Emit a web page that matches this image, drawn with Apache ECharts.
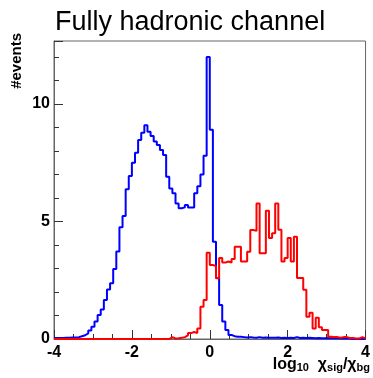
<!DOCTYPE html>
<html>
<head>
<meta charset="utf-8">
<script src="https://cdn.jsdelivr.net/npm/echarts@6/dist/echarts.min.js"></script>
<style>
  html, body { margin: 0; padding: 0; background: #fff; }
  #chart { width: 373px; height: 378px; }
</style>
</head>
<body>
<div id="chart"></div>
<script>
// binning of the histograms: 100 bins from -4 to 4
const xMin = -4;
const xMax = 4;
const binWidth = 0.08;
const xTicks = [-4, -2, 0, 2, 4];
const yTicks = [0, 5, 10];

// blue histogram (#events per bin)
const blueCounts = [
  0.04, 0.04, 0.04, 0.05, 0.05, 0.06, 0.06, 0.08, 0.12, 0.16,
  0.24, 0.36, 0.52, 0.74, 1.02, 1.26, 1.66, 2.11, 2.37, 2.98,
  3.72, 4.75, 5.23, 6.37, 6.94, 7.50, 7.93, 8.47, 8.78, 9.09,
  8.82, 8.64, 8.40, 8.26, 8.04, 7.83, 6.90, 6.40, 6.20, 5.77,
  5.56, 5.60, 5.70, 5.60, 5.60, 6.20, 6.50, 7.00, 7.80, 12.0,
  8.90, 4.14, 2.60, 1.45, 0.74, 0.38, 0.17, 0.12, 0.10, 0.10,
  0.08, 0.06, 0.08, 0.06, 0.05, 0.08, 0.05, 0.06, 0.05, 0.05,
  0.05, 0.06, 0.04, 0.05, 0.04, 0.05, 0.04, 0.08, 0.04, 0.05,
  0.04, 0.05, 0.04, 0.03, 0.04, 0.03, 0.03, 0.04, 0.03, 0.03,
  0.03, 0.02, 0.03, 0.02, 0.02, 0, 0, 0, 0, 0
];

// red histogram (#events per bin)
const redCounts = [
  0, 0, 0, 0, 0, 0, 0, 0, 0, 0,
  0, 0, 0, 0, 0, 0, 0, 0, 0, 0,
  0, 0, 0, 0, 0, 0, 0, 0, 0, 0,
  0, 0, 0, 0, 0, 0, 0, 0.08, 0.02, 0.03,
  0.05, 0.08, 0.15, 0.25, 0.30, 0.25, 0.45, 1.37, 1.66, 3.67,
  3.15, 3.10, 2.58, 3.45, 3.25, 3.30, 3.25, 3.40, 3.93, 3.93,
  3.30, 3.30, 3.71, 4.64, 4.60, 5.77, 3.65, 3.65, 5.46, 4.30,
  4.50, 5.77, 4.65, 3.30, 3.45, 4.30, 3.30, 4.35, 2.60, 2.60,
  2.10, 0.95, 1.12, 0.45, 0.90, 0.50, 0.38, 0.38, 0.10, 0.08,
  0.08, 0.05, 0.08, 0.08, 0.04, 0.04, 0.02, 0.02, 0.08, 0.02
];

// turn bin contents into step points (left edge of each bin + closing edge)
function toSteps(counts) {
  const pts = counts.map((v, i) => [+(xMin + i * binWidth).toFixed(2), v]);
  pts.push([xMax, counts[counts.length - 1]]);
  return pts;
}

const chart = echarts.init(document.getElementById('chart'));

const tickFont = {
  fontFamily: 'Liberation Sans',
  fontWeight: 'bold',
  fontSize: 16,
  color: '#000',
};

chart.setOption({
  animation: false,
  title: {
    text: 'Fully hadronic channel',
    left: 50,
    top: 4,
    textStyle: {
      fontFamily: 'Liberation Sans',
      fontWeight: 'normal',
      fontSize: 27,
      color: '#000',
    },
  },
  grid: {
    left: 54,
    right: 4,
    top: 41,
    bottom: 39,
    show: true,
    borderColor: '#666',
    borderWidth: 1,
  },
  xAxis: {
    type: 'value',
    min: xMin,
    max: xMax,
    interval: 2,
    axisLine: { onZero: false, lineStyle: { color: '#666', width: 1 } },
    axisTick: { inside: true, length: 9, lineStyle: { color: '#333' } },
    minorTick: { show: true, splitNumber: 4, length: 5, lineStyle: { color: '#333' } },
    splitLine: { show: false },
    axisLabel: {
      ...tickFont,
      margin: 6,
      formatter: (v) => (xTicks.includes(v) ? String(v) : ''),
    },
  },
  yAxis: {
    type: 'value',
    min: 0,
    max: 12.68,
    interval: 5,
    axisLine: { show: true, onZero: false, lineStyle: { color: '#666', width: 1 } },
    axisTick: { inside: true, length: 9, lineStyle: { color: '#333' } },
    minorTick: { show: true, splitNumber: 5, length: 5, lineStyle: { color: '#333' } },
    splitLine: { show: false },
    axisLabel: {
      ...tickFont,
      margin: 4,
      showMaxLabel: false,
      formatter: (v) => (yTicks.includes(v) ? String(v) : ''),
    },
  },
  graphic: [
    {
      // y axis title
      type: 'text',
      x: 9,
      y: 33,
      rotation: Math.PI / 2,
      style: {
        text: '#events',
        fontFamily: 'Liberation Sans',
        fontWeight: 'bold',
        fontSize: 15,
        fill: '#000',
        align: 'right',
        verticalAlign: 'top',
      },
    },
    {
      // x axis title
      type: 'text',
      right: 3,
      top: 357,
      style: {
        text: '{m|log}{s|10}{m|  χ}{s|sig}{m|/χ}{s|bg}',
        fill: '#000',
        rich: {
          m: { fontFamily: 'Liberation Sans', fontWeight: 'bold', fontSize: 16, verticalAlign: 'bottom' },
          s: { fontFamily: 'Liberation Sans', fontWeight: 'bold', fontSize: 11, padding: [7, 0, 0, 0], verticalAlign: 'bottom' },
        },
      },
    },
  ],
  series: [
    {
      type: 'line',
      step: 'end',
      data: toSteps(blueCounts),
      showSymbol: false,
      lineStyle: { color: '#0000ff', width: 2 },
      z: 2,
    },
    {
      type: 'line',
      step: 'end',
      data: toSteps(redCounts),
      showSymbol: false,
      lineStyle: { color: '#ff0000', width: 2 },
      z: 3,
    },
  ],
});
</script>
</body>
</html>
